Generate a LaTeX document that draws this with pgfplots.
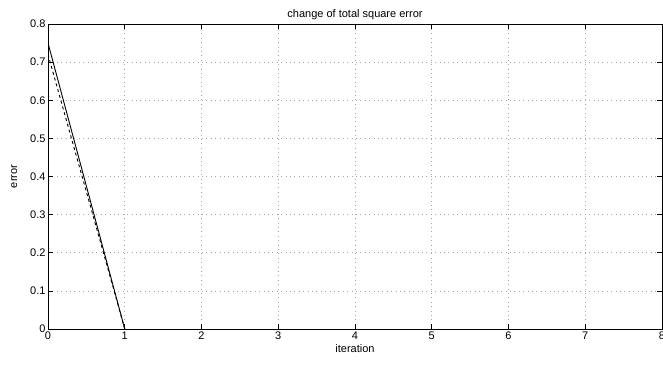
\documentclass[border=0pt]{standalone}
\usepackage{pgfplots}
\pgfplotsset{compat=1.18}
\usepackage{fontspec}
\setmainfont{Liberation Sans}
\begin{document}
\begin{tikzpicture}
\begin{axis}[
  scale only axis,
  width=614pt, height=305pt,
  xmin=0, xmax=8, ymin=0, ymax=0.8,
  xtick={0,1,...,8}, ytick={0,0.1,...,0.8},
  yticklabel style={/pgf/number format/fixed,/pgf/number format/precision=1},
  /pgf/number format/assume math mode=true,
  tick align=inside, tick pos=both,
  major tick length=5pt,
  grid=major,
  major grid style={dash pattern=on 0.8pt off 3.6pt, gray!70, line width=0.7pt},
  axis line style={line width=0.8pt},
  tick style={black, line width=0.6pt},
  ticklabel style={font=\fontsize{11}{12}\selectfont},
  title={change of total square error},
  title style={font=\fontsize{11}{12}\selectfont, yshift=-5pt},
  xlabel={iteration}, ylabel={error},
  label style={font=\fontsize{11}{12}\selectfont},
  xlabel style={yshift=2pt},
  ylabel style={yshift=6pt},
  xticklabel style={yshift=1pt},
  yticklabel style={xshift=1pt},
]
\addplot[black, line width=0.9pt] coordinates {(0,0.75) (1,0)};
\addplot[black, dashed, line width=0.9pt] coordinates {(0,0.72) (1,0)};
\end{axis}
\pgfresetboundingbox
\path[use as bounding box] ([xshift=-48pt,yshift=-56pt]current axis.south west) rectangle ([xshift=1pt,yshift=24pt]current axis.north east);
\end{tikzpicture}
\end{document}
